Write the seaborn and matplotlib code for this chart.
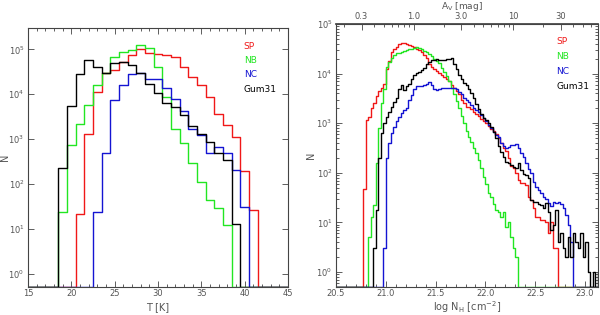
import numpy as np
import pandas as pd
import matplotlib
matplotlib.use("Agg")
import matplotlib.pyplot as plt
import seaborn as sns
from matplotlib.ticker import (LogLocator, LogFormatterMathtext, NullLocator,
                               MultipleLocator, FixedLocator, FormatStrFormatter,
                               NullFormatter, FixedFormatter)

# ---------------- data ----------------
series_names = ["SP", "NB", "NC", "Gum31"]
series_colors = ["#f01818", "#22e622", "#1414d2", "#000000"]

# Left panel: dust temperature histograms (1 K bins, centred on integer T)
T_bin_width = 1.0
T_range = (14.5, 45.5)
sp_T_start, sp_T_counts = 21, [21, 1300, 11000, 30000, 34000, 52000, 76000, 100000, 85000, 79000,
                               75000, 67000, 41000, 24500, 16000, 8700, 3700, 2050, 1130, 190, 26]
nb_T_start, nb_T_counts = 18, [24, 740, 2200, 5700, 16000, 30000, 67000, 88000, 96000, 126000,
                               110000, 40000, 8700, 1700, 800, 290, 110, 43, 29, 12]
nc_T_start, nc_T_counts = 23, [24, 500, 7400, 16000, 28000, 29000, 22000, 22000, 13500, 8000,
                               4200, 1650, 1230, 500, 680, 480, 205, 30]
gum_T_start, gum_T_counts = 18, [225, 5500, 28000, 58000, 40000, 29000, 49000, 51000, 45000, 29000,
                                 17000, 10500, 6300, 5300, 3400, 2000, 1300, 850, 500, 345, 13]

# Right panel: column density histograms (0.025 dex bins, start = left bin edge)
NH_bin_width = 0.025
NH_range = (20.5, 23.2)
sp_NH_start, sp_NH_counts = 20.775, [
    47, 1150, 1350, 2000, 2500, 3500, 4500, 5200, 6300, 12600,
    17800, 27000, 31000, 35000, 40000, 41000, 41000, 39000, 38000, 36000,
    35000, 32000, 30000, 27500, 24000, 20400, 15800, 13800, 12600, 11200,
    10200, 9300, 8700, 7900, 7100, 6000, 5200, 4500, 3800, 3000,
    2500, 2100, 2100, 1900, 1700, 1500, 1400, 1200, 1100, 1000,
    890, 760, 690, 600, 500, 400, 316, 280, 200, 140,
    126, 100, 71, 63, 63, 56, 32, 28, 20, 13,
    13, 11, 11, 10, 6, 10, 3, 3]
nb_NH_start, nb_NH_counts = 20.825, [
    5, 13, 22, 158, 790, 2500, 5000, 13800, 17400, 21000,
    23400, 25700, 26300, 27500, 28200, 29500, 30900, 31600, 33100, 33900,
    33100, 31600, 28800, 26900, 24500, 22400, 20000, 18200, 16600, 13200,
    11000, 8900, 7100, 5200, 3800, 2800, 2000, 1400, 1000, 710,
    525, 417, 316, 251, 178, 126, 83, 60, 40, 33,
    24, 18, 16, 13, 16, 8, 10, 5, 3, 2]
nc_NH_start, nc_NH_counts = 20.975, [
    3, 200, 400, 630, 830, 1120, 1320, 1600, 1860, 2000,
    2950, 3700, 5000, 5500, 5600, 5750, 6000, 6300, 6900, 5900,
    5000, 4700, 5000, 5100, 5200, 5200, 5200, 5200, 5100, 4800,
    4300, 3800, 3300, 3000, 2700, 2300, 2000, 1860, 1660, 1450,
    1260, 1120, 930, 790, 660, 575, 525, 400, 355, 316,
    331, 363, 372, 380, 316, 251, 209, 158, 120, 100,
    66, 52, 45, 40, 33, 30, 25, 21, 26, 25,
    26, 24, 20, 14, 9, 4]
gum_NH_start, gum_NH_counts = 20.875, [
    3, 18, 200, 630, 1000, 1350, 1660, 2140, 2630, 3160,
    5000, 5900, 4700, 5500, 6300, 7900, 9300, 10500, 11000, 12000,
    13200, 15800, 17400, 18600, 19000, 19500, 19000, 18600, 19000, 19500,
    20000, 20400, 15800, 12600, 9500, 7900, 6600, 5900, 5000, 4000,
    3200, 2400, 1900, 1500, 1300, 1170, 1000, 830, 660, 500,
    355, 263, 209, 166, 158, 145, 132, 126, 158, 112,
    95, 89, 79, 28, 26, 26, 24, 22, 20, 25,
    16, 7, 9, 18, 4, 6, 3, 2, 5, 2,
    6, 4, 3, 6, 2, 4, 1, 0, 1, 0, 1]

Av_ticks = [0.3, 1.0, 3.0, 10, 30]
Av_tick_labels = ["0.3", "1.0", "3.0", "10", "30"]
NH_per_Av_log = 21.28  # log N_H for A_V = 1 mag

left_series = [(sp_T_start, sp_T_counts), (nb_T_start, nb_T_counts),
               (nc_T_start, nc_T_counts), (gum_T_start, gum_T_counts)]
right_series = [(sp_NH_start, sp_NH_counts), (nb_NH_start, nb_NH_counts),
                (nc_NH_start, nc_NH_counts), (gum_NH_start, gum_NH_counts)]

# ---------------- styling ----------------
sns.set_theme(style="ticks")
plt.rcParams["font.family"] = ["DejaVu Sans"]
plt.rcParams["mathtext.fontset"] = "dejavusans"
tick_col = "#555555"
spine_col = "#444444"
LW = 1.0


def build_table(start, counts, lo, width, nbins, floor):
    edges = lo + width * np.arange(nbins + 1)
    vals = np.zeros(nbins)
    i0 = int(round((start - lo) / width))
    vals[i0:i0 + len(counts)] = counts
    vals = np.where(vals > 0, vals, floor)
    centers = edges[:-1] + width / 2
    return pd.DataFrame({"x": centers, "n": vals}), [float(e) for e in edges]


def style_axis(ax):
    for s in ax.spines.values():
        s.set_color(spine_col)
        s.set_linewidth(0.8)
    ax.tick_params(which="both", direction="in", colors=spine_col,
                   labelcolor=tick_col, labelsize=6, width=0.6)
    ax.tick_params(which="major", length=4)
    ax.tick_params(which="minor", length=2)
    ax.tick_params(axis="x", which="both", pad=1.5)
    ax.tick_params(axis="y", which="both", pad=2.5)


fig = plt.figure(figsize=(6.0, 3.15), dpi=100)
axL = fig.add_axes([28 / 600, 28 / 315, 260 / 600, 259 / 315])
axR = fig.add_axes([336 / 600, 28 / 315, 262 / 600, 263 / 315])

# ----- left panel -----
yfloorL = 0.5
nbL = int(round((T_range[1] - T_range[0]) / T_bin_width))
for (start, counts), name, col in zip(left_series, series_names, series_colors):
    df, edges = build_table(start, counts, T_range[0], T_bin_width, nbL, yfloorL)
    sns.histplot(data=df, x="x", weights="n", bins=edges, element="step",
                 fill=False, color=col, linewidth=LW, ax=axL)
axL.set_yscale("log")
axL.set_xlim(15, 45)
axL.set_ylim(yfloorL, 3e5)
axL.xaxis.set_major_locator(MultipleLocator(5))
axL.xaxis.set_minor_locator(MultipleLocator(1))
axL.yaxis.set_major_locator(LogLocator(base=10, numticks=10))
axL.yaxis.set_major_formatter(LogFormatterMathtext())
axL.yaxis.set_minor_locator(NullLocator())
axL.tick_params(which="both", top=True, right=True)
style_axis(axL)
axL.set_xlabel("T [K]", fontsize=7, color=tick_col)
axL.xaxis.label.set_va("center")
axL.xaxis.set_label_coords(0.5, (287 - 307) / 259)
axL.set_ylabel("N", fontsize=7, color=tick_col)
axL.yaxis.label.set_va("center")
axL.yaxis.set_label_coords((5 - 28) / 260, 0.5)

# ----- right panel -----
yfloorR = 0.5
nbR = int(round((NH_range[1] - NH_range[0]) / NH_bin_width))
for (start, counts), name, col in zip(right_series, series_names, series_colors):
    df, edges = build_table(start, counts, NH_range[0], NH_bin_width, nbR, yfloorR)
    sns.histplot(data=df, x="x", weights="n", bins=edges, element="step",
                 fill=False, color=col, linewidth=LW, ax=axR)
axR.set_yscale("log")
axR.set_xlim(20.5, 23.13)
axR.set_ylim(yfloorR, 1e5)
axR.xaxis.set_major_locator(MultipleLocator(0.5))
axR.xaxis.set_major_formatter(FormatStrFormatter("%.1f"))
axR.xaxis.set_minor_locator(MultipleLocator(0.1))
axR.yaxis.set_major_locator(LogLocator(base=10, numticks=10))
axR.yaxis.set_major_formatter(LogFormatterMathtext())
axR.yaxis.set_minor_locator(LogLocator(base=10, subs=np.arange(2, 10), numticks=20))
axR.yaxis.set_minor_formatter(NullFormatter())
axR.tick_params(which="both", top=False, right=True)
style_axis(axR)
axR.set_xlabel(r"log N$_\mathrm{H}$ [cm$^{-2}$]", fontsize=7, color=tick_col)
axR.xaxis.label.set_va("center")
axR.xaxis.set_label_coords(0.5, (287 - 307) / 263)
axR.set_ylabel("N", fontsize=7, color=tick_col)
axR.yaxis.label.set_va("center")
axR.yaxis.set_label_coords((311 - 336) / 262, 0.5)

sec = axR.secondary_xaxis(
    "top",
    functions=(lambda x: 10 ** (np.asarray(x, float) - NH_per_Av_log),
               lambda a: np.log10(np.clip(np.asarray(a, float), 1e-9, None)) + NH_per_Av_log))
sec.xaxis.set_major_locator(FixedLocator(Av_ticks))
sec.xaxis.set_major_formatter(FixedFormatter(Av_tick_labels))
minor_av = [v * m for v in (0.1, 1, 10) for m in range(2, 10)]
sec.xaxis.set_minor_locator(FixedLocator(minor_av))
sec.tick_params(which="both", direction="in", colors=spine_col,
                labelcolor=tick_col, labelsize=6, width=0.6, pad=2.5)
sec.tick_params(which="major", length=4)
sec.tick_params(which="minor", length=2)
sec.spines["top"].set_color(spine_col)
# top-axis title, placed in figure pixels just above the A_V tick labels
fig.text(462 / 600, 1 - 6.5 / 315, r"A$_\mathrm{V}$ [mag]", fontsize=6.5, color=tick_col,
         ha="center", va="center")

# legends as coloured text
for ax, x0, ys in [(axL, 0.83, [0.927, 0.873, 0.819, 0.764]),
                   (axR, 0.84, [0.932, 0.875, 0.821, 0.764])]:
    for name, col, yy in zip(series_names, series_colors, ys):
        ax.text(x0, yy, name, color=col, fontsize=6.5, transform=ax.transAxes,
                ha="left", va="center")

fig.savefig("out.png", dpi=100)
